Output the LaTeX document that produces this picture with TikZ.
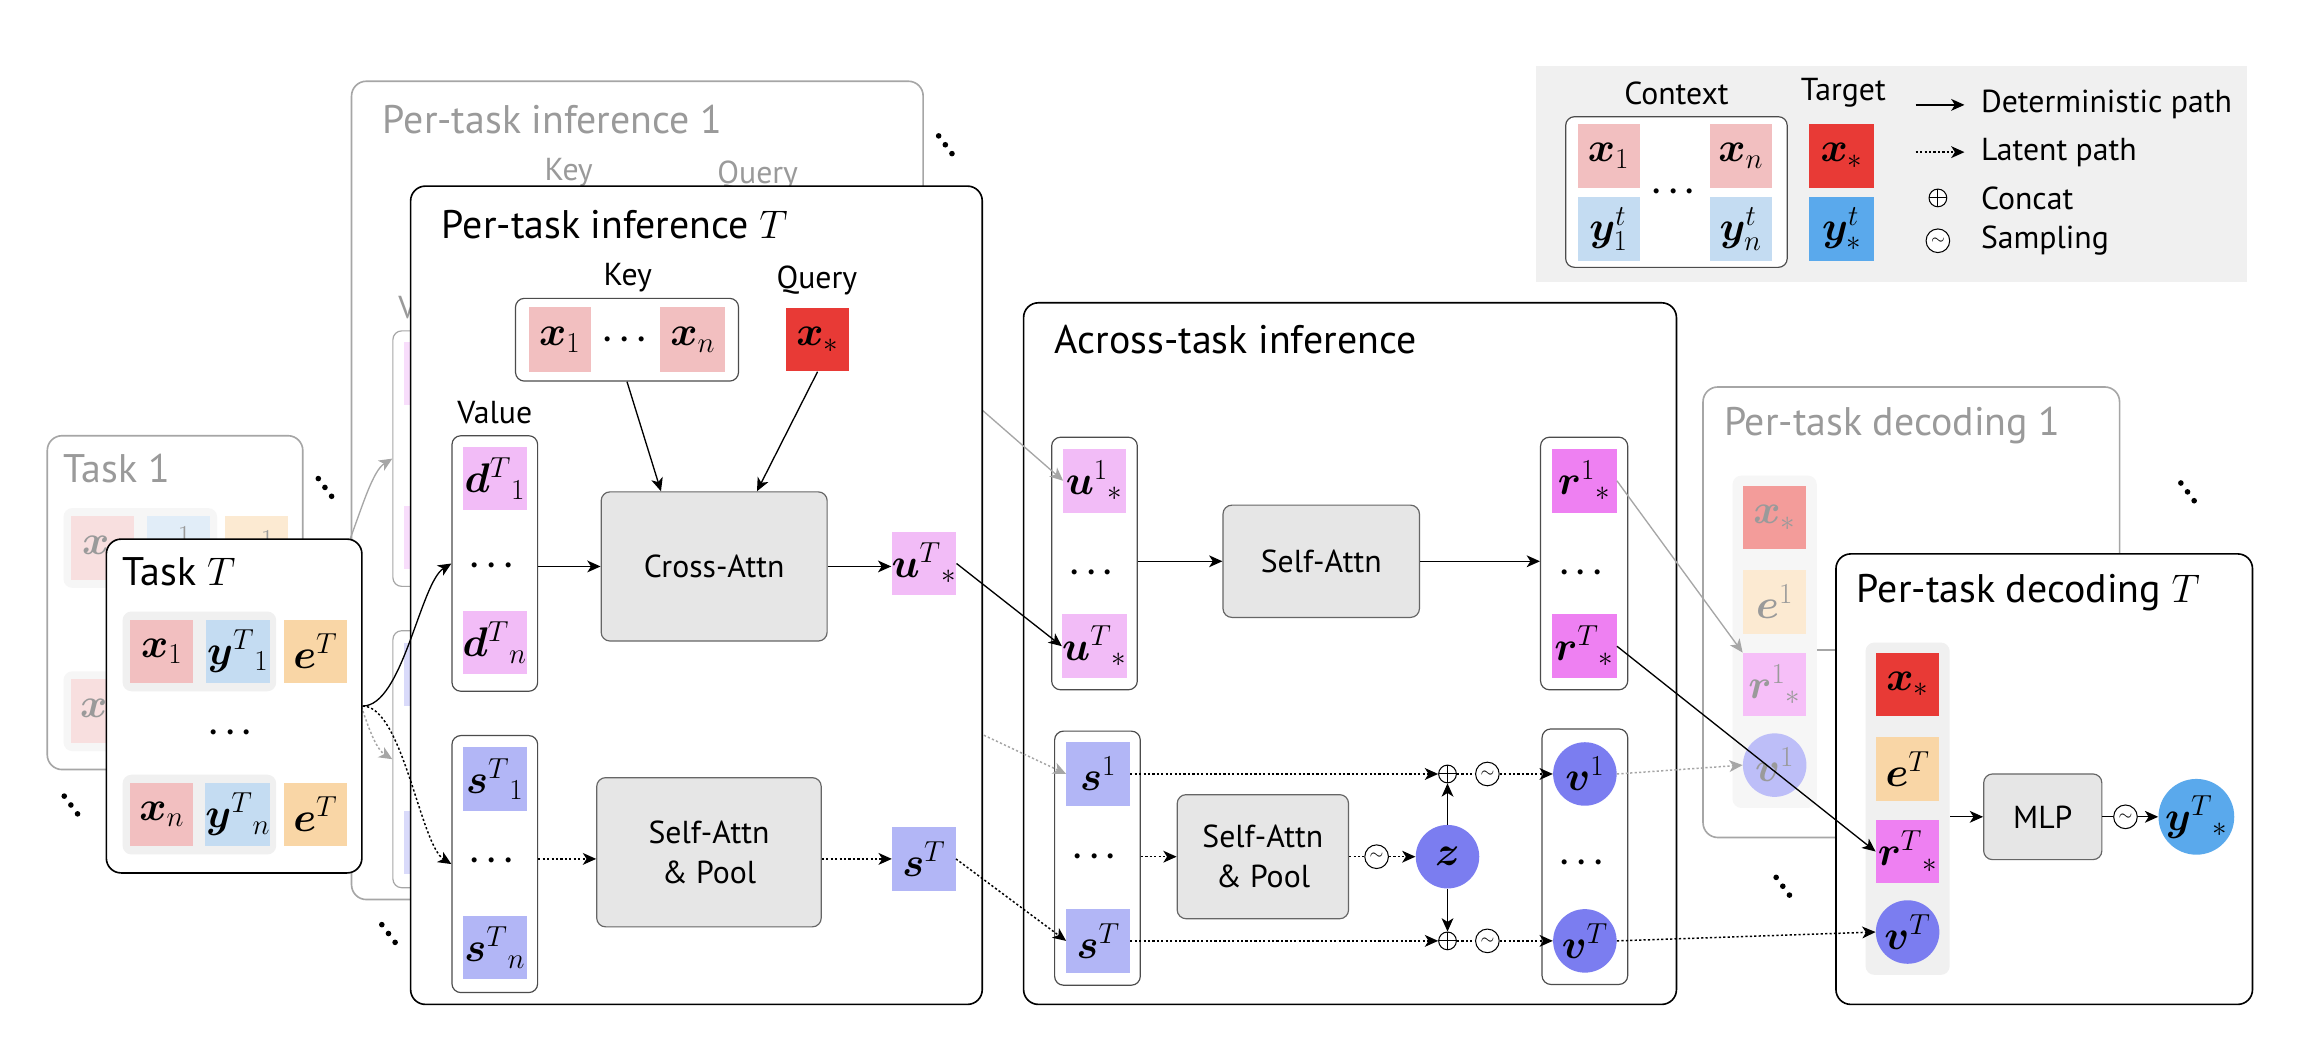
\RequirePackage{fix-cm}
\documentclass[tikz,border=0pt]{standalone}
\usepackage{amsmath,bm}
\usepackage[no-math]{fontspec}
\setmainfont{PT Sans}
\usetikzlibrary{arrows.meta,calc}

\definecolor{cxc}{HTML}{F2BFC0}
\definecolor{cyc}{HTML}{C4DCF2}
\definecolor{cec}{HTML}{F9D6A6}
\definecolor{cxs}{HTML}{E83A36}
\definecolor{cys}{HTML}{5AA9EC}
\definecolor{cdu}{HTML}{F2BCF7}
\definecolor{crr}{HTML}{EE80F2}
\definecolor{css}{HTML}{B2B6F6}
\definecolor{cvv}{HTML}{7B7DF0}
\definecolor{cbox}{HTML}{E6E6E6}
\definecolor{crow}{HTML}{F0F0F0}
\definecolor{ghost}{HTML}{A6A6A6}
\definecolor{ghosttxt}{HTML}{9A9A9A}

\colorlet{txtc}{black}
\colorlet{panc}{black}
\colorlet{colc}{black!70}
\colorlet{arrc}{black}
\colorlet{rowc}{crow}
\colorlet{fboxc}{cbox}
\colorlet{fbordc}{black!60}

\newcommand\ttlfont{\fontsize{27}{30}\selectfont}
\newcommand\lblfont{\fontsize{21.5}{27}\selectfont}
\newcommand\mthfont{\fontsize{28}{32}\selectfont}
\newcommand\dotfont{\fontsize{22}{22}\selectfont}

\newcommand\GhostSet{%
 \colorlet{txtc}{ghosttxt}\colorlet{panc}{ghost}\colorlet{colc}{ghost}\colorlet{arrc}{ghost}%
 \colorlet{rowc}{crow!60!white}\colorlet{fboxc}{cbox!60!white}\colorlet{fbordc}{ghost}%
 \colorlet{cxc}{cxc!50!white}\colorlet{cyc}{cyc!50!white}\colorlet{cec}{cec!50!white}%
 \colorlet{cxs}{cxs!50!white}\colorlet{cys}{cys!50!white}\colorlet{cdu}{cdu!50!white}%
 \colorlet{crr}{crr!50!white}\colorlet{css}{css!50!white}\colorlet{cvv}{cvv!50!white}}

% three diagonal dots (a "\ddots" sign) centred at #1,#2
\newcommand\diagdots[2]{%
 \fill (#1-4.5,#2-6) circle (1.9pt) (#1,#2) circle (1.9pt) (#1+4.5,#2+6) circle (1.9pt);}

\tikzset{
 panel/.style={draw=panc, line width=1.1pt, rounded corners=10pt, fill=white, inner sep=0pt},
 colbox/.style={draw=colc, line width=0.8pt, rounded corners=6pt, fill=white, inner sep=0pt},
 rowbox/.style={fill=rowc, rounded corners=6pt, inner sep=0pt},
 fnbox/.style={draw=fbordc, line width=0.8pt, rounded corners=6pt, fill=fboxc, inner sep=0pt, font=\lblfont, text=txtc, align=center},
 cell/.style={inner sep=0pt, minimum width=43pt, minimum height=43pt, font=\mthfont, text=txtc},
 circ/.style={circle, inner sep=0pt, minimum size=43pt, font=\mthfont, text=txtc},
 ttl/.style={anchor=west, inner sep=0pt, font=\ttlfont, text=txtc},
 lbl/.style={inner sep=0pt, font=\lblfont, text=txtc},
 dotn/.style={inner sep=0pt, font=\dotfont, text=txtc},
 det/.style={draw=arrc, line width=0.9pt, -{Stealth[length=9pt,width=8pt,inset=2.5pt]}},
 latn/.style={draw=arrc, line width=1pt, dash pattern=on 1.5pt off 1.5pt},
 lat/.style={latn, -{Stealth[length=9pt,width=8pt,inset=2.5pt]}},
 gdet/.style={det, draw=ghost},
 glat/.style={lat, draw=ghost},
 samp/.style={circle, draw=arrc, line width=0.7pt, minimum size=16pt, inner sep=0pt, fill=white, font=\fontsize{12}{12}\selectfont, text=txtc},
 catn/.style={circle, draw=arrc, line width=0.7pt, minimum size=12pt, inner sep=0pt, fill=white,
   path picture={\draw[arrc, line width=0.7pt] (path picture bounding box.north) -- (path picture bounding box.south) (path picture bounding box.west) -- (path picture bounding box.east);}},
}

\begin{document}
\begin{tikzpicture}[x=1pt,y=-1pt]
\fill[white] (0,0) rectangle (1568,720);
\useasboundingbox (0,0) rectangle (1568,720);

% ---------------- legend
\node[fill=crow, minimum width=481pt, minimum height=146pt, inner sep=0pt] (legbg) at (1280.5,118) {};
\node[lbl] (lctx) at (1135,63) {Context};
\node[lbl] (ltgt) at (1248,63) {Target};
\node[colbox, minimum width=150pt, minimum height=102pt] (lctxbox) at (1135,130) {};
\node[cell, minimum width=42pt, fill=cxc] (lxa) at (1089,105.5) {$\bm{x}_{1}$};
\node[cell, minimum width=42pt, fill=cxc] (lxb) at (1178.5,105.5) {$\bm{x}_{n}$};
\node[cell, minimum width=42pt, fill=cyc] (lya) at (1089,155) {$\bm{y}^{t}_{1}$};
\node[cell, minimum width=42pt, fill=cyc] (lyb) at (1178.5,155) {$\bm{y}^{t}_{n}$};
\node[dotn] (ldots) at (1135,130) {$\bm{\cdots}$};
\node[cell, minimum width=44pt, fill=cxs] (lxs) at (1247,105.5) {$\bm{x}_{*}$};
\node[cell, minimum width=44pt, fill=cys] (lys) at (1247,155) {$\bm{y}^{t}_{*}$};
\coordinate (lda) at (1297,71); \coordinate (ldb) at (1330,71);
\draw[det] (lda) -- (ldb);
\node[lbl, anchor=west] (ldet) at (1341,71) {Deterministic path};
\coordinate (lla) at (1297,103); \coordinate (llb) at (1330,103);
\draw[lat] (lla) -- (llb);
\node[lbl, anchor=west] (llat) at (1341,103) {Latent path};
\node[catn] (lcat) at (1312,134) {};
\node[lbl, anchor=west] (lcatt) at (1341,134) {Concat};
\node[samp] (lsmp) at (1312,163) {$\sim$};
\node[lbl, anchor=west] (lsmpt) at (1341,163) {Sampling};

% ---------------- ghost per-task inference 1 (only its visible parts)
\begin{scope}[shift={(-40,-71)}]
\GhostSet
\node[panel, minimum width=387pt, minimum height=554pt] (gbox) at (471.5,403) {};
\node[ttl] (gttl) at (299,152) {Per-task inference 1};
\node[lbl] (gkeyl) at (425,188) {Key};
\node[lbl] (gqryl) at (553,190) {Query};
\node[lbl] (gvall) at (335,279) {Value};
\node[colbox, minimum width=58pt, minimum height=173pt] (gvcol) at (335,381.5) {};
\node[cell, fill=cdu] (gda) at (335,324) {};
\node[cell, fill=cdu] (gdb) at (335,435) {};
\node[colbox, minimum width=58pt, minimum height=174pt] (gscol) at (335,585) {};
\node[cell, fill=css] (gsa) at (335,527.5) {};
\node[cell, fill=css] (gsb) at (335,641.5) {};
\end{scope}

% ---------------- ghost task 1 (only its visible parts)
\begin{scope}[shift={(-40,-70)}]
\GhostSet
\node[panel, minimum width=173pt, minimum height=226pt] (gtbox) at (158.5,478) {};
\node[ttl] (gtttl) at (83,387) {Task 1};
\node[rowbox, minimum width=104pt, minimum height=54pt] (gtrowa) at (135,441) {};
\node[cell, fill=cxc] (gtxa) at (109.5,441) {$\bm{x}{}_{1}$};
\node[cell, fill=cyc] (gtya) at (161,441) {$\bm{y}^{1}{}_{1}$};
\node[cell, fill=cec] (gtea) at (213.5,441) {$\bm{e}^{1}$};
\node[rowbox, minimum width=104pt, minimum height=54pt] (gtrowb) at (135,551.5) {};
\node[cell, fill=cxc] (gtxb) at (109.5,551.5) {$\bm{x}{}_{n}$};
\node[cell, fill=cyc] (gtyb) at (161,551.5) {};
\node[cell, fill=cec] (gteb) at (213.5,551.5) {};
\end{scope}
\draw[gdet] (gtbox.east) .. controls +(27,0) and +(-21,13) .. (gvcol.west);
\draw[glat] (gtbox.east) .. controls +(27,0) and +(-21,-13) .. (gscol.west);

% ---------------- across-task inference
\node[panel, minimum width=442pt, minimum height=475pt] (acr) at (914,442.5) {};
\node[ttl] (acrttl) at (714,230) {Across-task inference};
\node[colbox, minimum width=58pt, minimum height=171pt] (aucol) at (741,381.5) {};
\node[cell, minimum width=42pt, fill=cdu] (au1) at (741,325.5) {$\bm{u}^{1}{}_{*}$};
\node[dotn] (audots) at (741,388) {$\bm{\cdots}$};
\node[cell, minimum width=42pt, fill=cdu] (auT) at (741,437.5) {$\bm{u}^{T}{}_{*}$};
\node[fnbox, minimum width=133pt, minimum height=76pt] (asa) at (894.5,380) {Self-Attn};
\node[colbox, minimum width=59pt, minimum height=171pt] (arcol) at (1072.5,381.5) {};
\node[cell, minimum width=44pt, fill=crr] (ar1) at (1072.5,325.5) {$\bm{r}^{1}{}_{*}$};
\node[dotn] (ardots) at (1072.5,388) {$\bm{\cdots}$};
\node[cell, minimum width=44pt, fill=crr] (arT) at (1072.5,437.5) {$\bm{r}^{T}{}_{*}$};
\draw[det] (aucol.east |- asa.west) -- (asa.west);
\draw[det] (asa.east) -- (arcol.west |- asa.east);

\node[colbox, minimum width=58pt, minimum height=172pt] (ascol) at (743,581) {};
\node[cell, fill=css] (as1) at (743.5,524) {$\bm{s}^{1}$};
\node[dotn] (asdots) at (743,580) {$\bm{\cdots}$};
\node[cell, fill=css] (asT) at (743.5,637) {$\bm{s}^{T}$};
\node[fnbox, minimum width=116pt, minimum height=84pt] (asap) at (855,580) {Self-Attn\\\& Pool};
\node[samp] (asmpz) at (932,580) {$\sim$};
\node[circ, fill=cvv] (az) at (980,580) {$\bm{z}$};
\node[catn] (acat1) at (980,524) {};
\node[catn] (acat2) at (980,637) {};
\node[samp] (asmp1) at (1007,524) {$\sim$};
\node[samp] (asmp2) at (1007,637) {$\sim$};
\node[colbox, minimum width=58pt, minimum height=173pt] (avcol) at (1073,580) {};
\node[circ, fill=cvv] (av1) at (1073,524) {$\bm{v}^{1}$};
\node[dotn] (avdots) at (1073,584) {$\bm{\cdots}$};
\node[circ, fill=cvv] (avT) at (1073,637) {$\bm{v}^{T}$};
\draw[lat] (ascol.east |- asap.west) -- (asap.west);
\draw[latn] (asap.east) -- (asmpz.west);
\draw[lat] (asmpz.east) -- (az.west);
\draw[lat] (as1.east) -- (acat1.west);
\draw[lat] (asT.east) -- (acat2.west);
\draw[det] (az.north) -- (acat1.south);
\draw[det] (az.south) -- (acat2.north);
\draw[latn] (acat1.east) -- (asmp1.west);
\draw[lat] (asmp1.east) -- (av1.west);
\draw[latn] (acat2.east) -- (asmp2.west);
\draw[lat] (asmp2.east) -- (avT.west);

% ghost connectors into across-task
\coordinate (gu1src) at (615,234);
\coordinate (gs1src) at (620,476);
\draw[gdet] (gu1src) -- (au1.west);
\draw[glat] (gs1src) -- (as1.west);

% ---------------- per-task inference T
\node[panel, minimum width=387pt, minimum height=554pt] (pbox) at (471.5,403) {};
\node[ttl] (pttl) at (299,152) {Per-task inference $T$};
\node[lbl] (pkeyl) at (425,188) {Key};
\node[colbox, minimum width=151pt, minimum height=56pt] (pkey) at (424.5,230) {};
\node[cell, minimum width=42pt, minimum height=44pt, fill=cxc] (pkxa) at (379,230) {$\bm{x}{}_{1}$};
\node[dotn] (pkdots) at (425,230) {$\bm{\cdots}$};
\node[cell, minimum width=44pt, minimum height=44pt, fill=cxc] (pkxb) at (469,230) {$\bm{x}{}_{n}$};
\node[lbl] (pqryl) at (553,190) {Query};
\node[cell, fill=cxs] (pqx) at (553.5,230) {$\bm{x}{}_{*}$};
\node[lbl] (pvall) at (335,279) {Value};
\node[colbox, minimum width=58pt, minimum height=173pt] (pvcol) at (335,381.5) {};
\node[cell, fill=cdu] (pda) at (335,324) {$\bm{d}^{T}{}_{1}$};
\node[dotn] (pvdots) at (335,383) {$\bm{\cdots}$};
\node[cell, fill=cdu] (pdb) at (335,435) {$\bm{d}^{T}{}_{n}$};
\node[fnbox, minimum width=153pt, minimum height=101pt] (pca) at (483.5,383.5) {Cross-Attn};
\node[cell, fill=cdu] (pu) at (625.5,381.5) {$\bm{u}^{T}{}_{*}$};
\node[colbox, minimum width=58pt, minimum height=174pt] (pscol) at (335,585) {};
\node[cell, fill=css] (psa) at (335,527.5) {$\bm{s}^{T}{}_{1}$};
\node[dotn] (psdots) at (335,583) {$\bm{\cdots}$};
\node[cell, fill=css] (psb) at (335,641.5) {$\bm{s}^{T}{}_{n}$};
\node[fnbox, minimum width=152pt, minimum height=101pt] (psap) at (480,577) {Self-Attn\\\& Pool};
\node[cell, fill=css] (ps) at (625.5,581.5) {$\bm{s}^{T}$};
\draw[det] (pkey.south) -- ([xshift=-36pt]pca.north);
\draw[det] (pqx.south) -- ([xshift=29pt]pca.north);
\draw[det] (pvcol.east |- pca.west) -- (pca.west);
\draw[det] (pca.east) -- (pu.west |- pca.east);
\draw[lat] (pscol.east |- ps.west) -- (psap.west |- ps.west);
\draw[lat] (psap.east |- ps.west) -- (ps.west);

% ---------------- task T
\node[panel, minimum width=173pt, minimum height=226pt] (tbox) at (158.5,478) {};
\node[ttl] (tttl) at (83,387) {Task $T$};
\node[rowbox, minimum width=104pt, minimum height=54pt] (trowa) at (135,441) {};
\node[cell, fill=cxc] (txa) at (109.5,441) {$\bm{x}{}_{1}$};
\node[cell, fill=cyc] (tya) at (161,441) {$\bm{y}^{T}{}_{1}$};
\node[cell, fill=cec] (tea) at (213.5,441) {$\bm{e}^{T}$};
\node[dotn] (tdots) at (158,496) {$\bm{\cdots}$};
\node[rowbox, minimum width=104pt, minimum height=54pt] (trowb) at (135,551.5) {};
\node[cell, fill=cxc] (txb) at (109.5,551.5) {$\bm{x}{}_{n}$};
\node[cell, fill=cyc] (tyb) at (161,551.5) {$\bm{y}^{T}{}_{n}$};
\node[cell, fill=cec] (teb) at (213.5,551.5) {$\bm{e}^{T}$};

\draw[det] (tbox.east) .. controls +(27,0) and +(-21,13) .. (pvcol.west);
\draw[lat] (tbox.east) .. controls +(27,0) and +(-21,-13) .. (pscol.west);
\draw[det] (pu.east) -- (auT.west);
\draw[lat] (ps.east) -- (asT.west);

% ---------------- ghost per-task decoding 1 (only its visible parts)
\begin{scope}[shift={(-90,-113)}]
\GhostSet
\node[panel, minimum width=282pt, minimum height=305pt] (gdbox) at (1384,527.5) {};
\node[ttl] (gdttl) at (1257,401) {Per-task decoding 1};
\node[rowbox, minimum width=57pt, minimum height=225pt] (gdcol) at (1291.5,547.5) {};
\node[cell, fill=cxs] (gdx) at (1291.5,463.5) {$\bm{x}{}_{*}$};
\node[cell, fill=cec] (gde) at (1291.5,520.5) {$\bm{e}^{1}$};
\node[cell, fill=crr] (gdr) at (1291.5,576.5) {$\bm{r}^{1}{}_{*}$};
\node[circ, fill=cvv] (gdv) at (1291.5,631) {$\bm{v}^{1}$};
\coordinate (gdmlpin) at (1343,553);
\draw[det] (gdcol.east |- gdmlpin) -- (gdmlpin);
\end{scope}
\draw[gdet] (ar1.east) -- (gdr.north west);
\draw[glat] (av1.east) -- (gdv.west);

% ---------------- per-task decoding T
\node[panel, minimum width=282pt, minimum height=305pt] (dbox) at (1384,527.5) {};
\node[ttl] (dttl) at (1257,401) {Per-task decoding $T$};
\node[rowbox, minimum width=57pt, minimum height=225pt] (dcol) at (1291.5,547.5) {};
\node[cell, fill=cxs] (dx) at (1291.5,463.5) {$\bm{x}{}_{*}$};
\node[cell, fill=cec] (de) at (1291.5,520.5) {$\bm{e}^{T}$};
\node[cell, fill=crr] (dr) at (1291.5,576.5) {$\bm{r}^{T}{}_{*}$};
\node[circ, fill=cvv] (dv) at (1291.5,631) {$\bm{v}^{T}$};
\node[fnbox, minimum width=80pt, minimum height=58pt] (dmlp) at (1383,553) {MLP};
\node[samp] (dsmp) at (1439,553) {$\sim$};
\node[circ, fill=cys] (dy) at (1487,553) {$\bm{y}^{T}{}_{*}$};
\draw[det] (dcol.east |- dmlp.west) -- (dmlp.west);
\draw[line width=0.9pt] (dmlp.east) -- (dsmp.west);
\draw[det] (dsmp.east) -- (dy.west);
\draw[det] (arT.east) -- (dr.west);
\draw[lat] (avT.east) -- (dv.west);

% ---------------- diagonal ellipses
\diagdots{220}{330}
\diagdots{48}{545}
\diagdots{263}{632}
\diagdots{640}{98}
\diagdots{1481}{333}
\diagdots{1207}{600}
\end{tikzpicture}
\end{document}
